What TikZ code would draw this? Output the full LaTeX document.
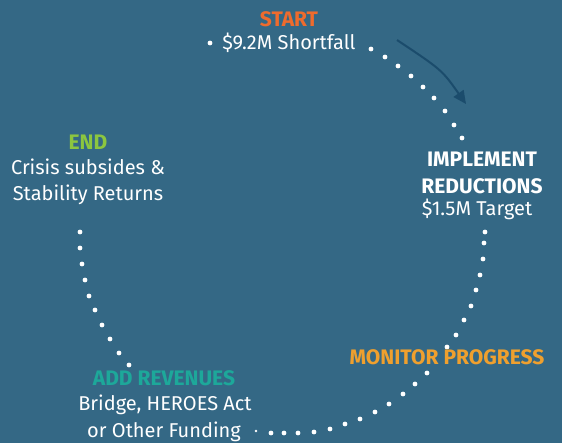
\documentclass[tikz,border=0pt]{standalone}
\usepackage{fontspec}
\setmainfont{Fira Sans}
\usetikzlibrary{arrows.meta}
\definecolor{bg}{HTML}{346885}
\definecolor{arrowc}{HTML}{1B4C6C}
\definecolor{cstart}{HTML}{EE6B2D}
\definecolor{cmon}{HTML}{EFA02E}
\definecolor{cadd}{HTML}{1DA89A}
\definecolor{cend}{HTML}{8CC63F}
\tikzset{
  lbl/.style={anchor=base, inner sep=0pt, text=white, font=\fontsize{20}{22}\selectfont},
  head/.style={lbl, font=\fontsize{21}{22}\selectfont\bfseries},
  dot/.style={fill=white}
}
\begin{document}
\begin{tikzpicture}[x=1pt,y=-1pt]
\useasboundingbox (0,0) rectangle (562,443);
\fill[bg] (0,0) rectangle (562,443);
% dotted cycle
\foreach \p in {(210,43),
  (371,49),(385,57),(398,66),(411,76),(423,87),(434,98),(445,111),(454,125),(462,138),
  (485,232),(484,243),(483,259),(480,275),(476,290),(471,306),(464,320),(456,335),(447,347),
  (427,373),(415,384),(403,394),(389,404),(375,412),(360,419),(345,424),(330,429),(314,432),(298,433),(284,433),(271,433),
  (80,232),(80,248),(82,264),(85,280),(89,296),(95,310),(102,325),(110,339),(119,353),(129,365)}
  \fill[dot] \p circle (2.4);
\fill[dot] (256,431) circle (1.3);
% direction arrow
\coordinate (a0) at (397,40);
\coordinate (a1) at (466,104);
\draw[arrowc, line width=2pt, -{Triangle[length=13pt,width=12pt]}] (a0) .. controls (442,70) .. (a1);
% labels
\node[head, text=cstart] (start) at (289,27) {START};
\node[lbl] (startt) at (289,50) {\$9.2M Shortfall};
\node[head] (impl1) at (482,167) {IMPLEMENT};
\node[head] (impl2) at (482,194) {REDUCTIONS};
\node[lbl] (implt) at (477,216) {\$1.5M Target};
\node[head, text=cmon] (mon) at (447,365) {MONITOR PROGRESS};
\node[head, text=cadd] (add) at (164,385) {ADD REVENUES};
\node[lbl] (addt1) at (165,410) {Bridge, HEROES Act};
\node[lbl] (addt2) at (164,437) {or Other Funding};
\node[head, text=cend] (end) at (88,150) {END};
\node[lbl] (endt1) at (88,175) {Crisis subsides \&};
\node[lbl] (endt2) at (88,201) {Stability Returns};
\end{tikzpicture}
\end{document}
